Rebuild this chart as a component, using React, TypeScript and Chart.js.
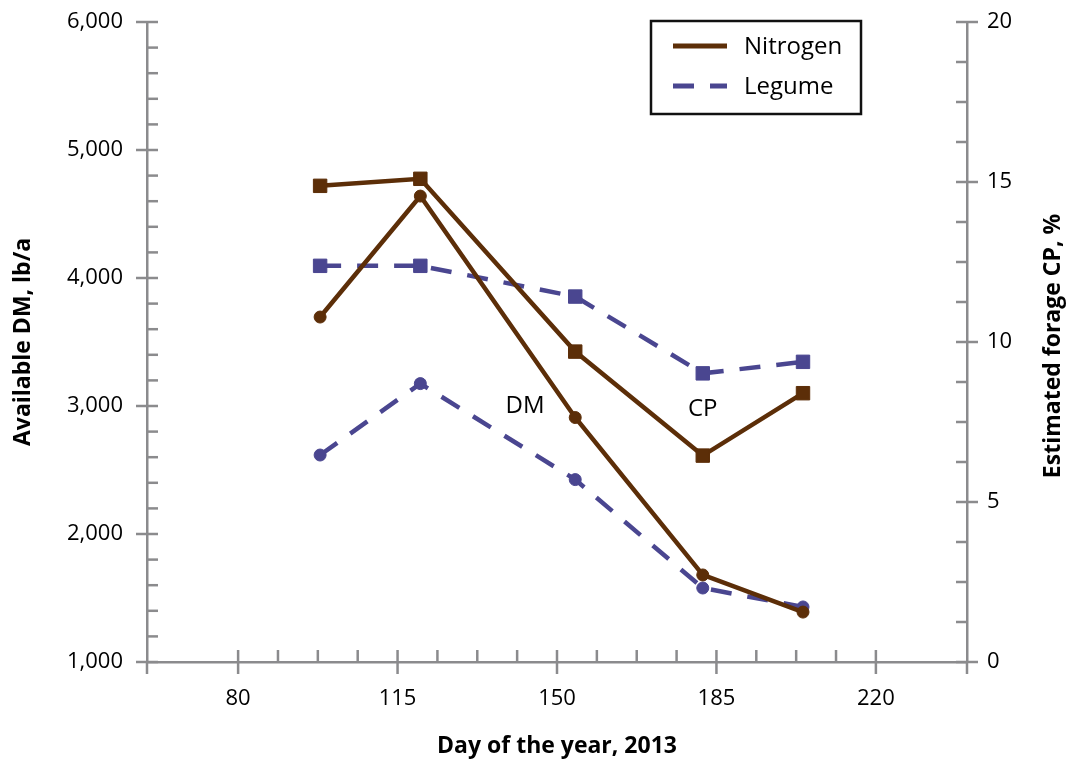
import React, { useEffect, useRef } from "react";
import { Chart, registerables } from "chart.js";

Chart.register(...registerables);

// ---- data ----
const days = [98, 120, 154, 182, 204];
const nitrogenDM = [3695, 4640, 2910, 1680, 1390];
const legumeDM = [2617, 3175, 2425, 1578, 1430];
const nitrogenCP = [14.88, 15.1, 9.7, 6.45, 8.4];
const legumeCP = [12.38, 12.38, 11.42, 9.02, 9.38];

const xTicks = [80, 115, 150, 185, 220];
const dmTicks = [1000, 2000, 3000, 4000, 5000, 6000];
const cpTicks = [0, 5, 10, 15, 20];

const seriesNames = ["Nitrogen", "Legume"];
const annotationLabels = ["DM", "CP"];
const annotationX = [143, 182];
const annotationY = [3000, 7.9];
const annotationAxis = ["y", "y2"];

const xTitle = "Day of the year, 2013";
const yTitle = "Available DM, lb/a";
const y2Title = "Estimated forage CP, %";

// ---- styles ----
const BROWN = "#5c2e08";
const PURPLE = "#4a4690";
const AXIS = "#8b8b8d";
const FONT = "'Open Sans', 'Noto Sans', sans-serif";
const DASH = [21, 16];

const tickPlugin = {
  id: "tickMarks",
  beforeDatasetsDraw(chart: any) {
    const { ctx, chartArea, scales } = chart;
    const x = scales.x, y = scales.y, y2 = scales.y2;
    ctx.save();
    ctx.strokeStyle = AXIS;
    ctx.lineWidth = 2.5;
    ctx.lineCap = "butt";
    const line = (x1: number, y1: number, x2: number, y2p: number) => {
      ctx.beginPath();
      ctx.moveTo(x1, y1);
      ctx.lineTo(x2, y2p);
      ctx.stroke();
    };
    const bottom = chartArea.bottom;
    // x axis
    const xStep = (xTicks[1] - xTicks[0]) / 4;
    for (let v = xTicks[0]; v <= xTicks[xTicks.length - 1] + 1e-6; v += xStep) {
      const px = x.getPixelForValue(v);
      const isMajor = xTicks.some((t) => Math.abs(t - v) < 1e-6);
      line(px, bottom - 12, px, isMajor ? bottom + 12 : bottom);
    }
    line(chartArea.left, bottom, chartArea.left, bottom + 12);
    line(chartArea.right, bottom, chartArea.right, bottom + 12);
    // left y axis
    const yStep = (dmTicks[1] - dmTicks[0]) / 5;
    for (let v = dmTicks[0]; v <= dmTicks[dmTicks.length - 1] + 1e-6; v += yStep) {
      const py = y.getPixelForValue(v);
      const isMajor = dmTicks.some((t) => Math.abs(t - v) < 1e-6);
      line(chartArea.left + 11, py, isMajor ? chartArea.left - 11 : chartArea.left, py);
    }
    // right y axis
    const y2Step = (cpTicks[1] - cpTicks[0]) / 4;
    for (let v = cpTicks[0]; v <= cpTicks[cpTicks.length - 1] + 1e-6; v += y2Step) {
      const py = y2.getPixelForValue(v);
      const isMajor = cpTicks.some((t) => Math.abs(t - v) < 1e-6);
      line(chartArea.right - 11, py, isMajor ? chartArea.right + 11 : chartArea.right, py);
    }
    ctx.restore();
  },
  afterDraw(chart: any) {
    const { ctx, chartArea, scales } = chart;
    ctx.save();
    // right axis title (reads bottom-to-top)
    ctx.fillStyle = "#000";
    ctx.font = `bold 23px ${FONT}`;
    ctx.textAlign = "center";
    ctx.textBaseline = "middle";
    ctx.translate(chartArea.right + 86, (chartArea.top + chartArea.bottom) / 2 + 4);
    ctx.rotate(-Math.PI / 2);
    ctx.fillText(y2Title, 0, 0);
    ctx.restore();

    // annotations
    ctx.save();
    ctx.fillStyle = "#000";
    ctx.font = `24px ${FONT}`;
    ctx.textAlign = "center";
    ctx.textBaseline = "middle";
    annotationLabels.forEach((t, i) => {
      const px = scales.x.getPixelForValue(annotationX[i]);
      const py = scales[annotationAxis[i]].getPixelForValue(annotationY[i]);
      ctx.fillText(t, px, py);
    });
    ctx.restore();

    // legend
    ctx.save();
    const bx = chartArea.right - 316;
    const by = chartArea.top - 1;
    const bw = 210;
    const bh = 93;
    ctx.strokeStyle = "#111";
    ctx.lineWidth = 2.5;
    ctx.strokeRect(bx, by, bw, bh);
    const colors = [BROWN, PURPLE];
    const dashes = [[], DASH];
    seriesNames.forEach((name, i) => {
      const ly = by + 25 + i * 40;
      ctx.strokeStyle = colors[i];
      ctx.lineWidth = 5;
      ctx.setLineDash(dashes[i]);
      ctx.beginPath();
      ctx.moveTo(bx + 22, ly);
      ctx.lineTo(bx + 76, ly);
      ctx.stroke();
      ctx.setLineDash([]);
      ctx.fillStyle = "#000";
      ctx.font = `24px ${FONT}`;
      ctx.textAlign = "left";
      ctx.textBaseline = "middle";
      ctx.fillText(name, bx + 93, ly + 1);
    });
    ctx.restore();
  },
};

function pts(ys: number[]) {
  return days.map((d, i) => ({ x: d, y: ys[i] }));
}

function zeroPad(s: any) {
  s.paddingTop = 0;
  s.paddingBottom = 0;
  s.paddingLeft = 0;
  s.paddingRight = 0;
}

export default function App() {
  const ref = useRef<HTMLCanvasElement | null>(null);
  useEffect(() => {
    if (!ref.current) return;
    const common = { borderWidth: 4.5, pointBorderWidth: 1, tension: 0, fill: false };
    const chart = new Chart(ref.current, {
      type: "line",
      data: {
        datasets: [
          {
            label: "Nitrogen DM",
            data: pts(nitrogenDM),
            yAxisID: "y",
            borderColor: BROWN,
            backgroundColor: BROWN,
            pointStyle: "circle",
            pointRadius: 6,
            ...common,
          },
          {
            label: "Legume DM",
            data: pts(legumeDM),
            yAxisID: "y",
            borderColor: PURPLE,
            backgroundColor: PURPLE,
            borderDash: DASH,
            pointStyle: "circle",
            pointRadius: 6,
            ...common,
          },
          {
            label: "Nitrogen CP",
            data: pts(nitrogenCP),
            yAxisID: "y2",
            borderColor: BROWN,
            backgroundColor: BROWN,
            pointStyle: "rect",
            pointRadius: 9.5,
            ...common,
          },
          {
            label: "Legume CP",
            data: pts(legumeCP),
            yAxisID: "y2",
            borderColor: PURPLE,
            backgroundColor: PURPLE,
            borderDash: DASH,
            pointStyle: "rect",
            pointRadius: 9.5,
            ...common,
          },
        ] as any,
      },
      options: {
        responsive: false,
        animation: false,
        events: [],
        layout: { padding: { top: 22, left: 0, right: 0, bottom: 0 } },
        plugins: { legend: { display: false }, tooltip: { enabled: false } },
        scales: {
          x: {
            type: "linear",
            min: 60,
            max: 240,
            afterBuildTicks: (s: any) => {
              s.ticks = xTicks.map((v) => ({ value: v }));
            },
            afterFit: (s: any) => {
              s.height = 103;
              zeroPad(s);
            },
            grid: { display: false, drawTicks: false },
            border: { display: true, color: AXIS, width: 2.5 },
            ticks: {
              color: "#000",
              font: { family: FONT, size: 22 },
              padding: 24,
              maxRotation: 0,
              callback: (v: any) => String(v),
            },
            title: {
              display: true,
              text: xTitle,
              color: "#000",
              font: { family: FONT, size: 23, weight: "bold" },
              padding: { top: 0, bottom: 5 },
            },
          },
          y: {
            type: "linear",
            position: "left",
            min: 1000,
            max: 6000,
            afterBuildTicks: (s: any) => {
              s.ticks = dmTicks.map((v) => ({ value: v }));
            },
            afterFit: (s: any) => {
              s.width = 147;
              zeroPad(s);
            },
            grid: { display: false, drawTicks: false },
            border: { display: true, color: AXIS, width: 2.5 },
            ticks: {
              color: "#000",
              font: { family: FONT, size: 22 },
              padding: 24,
              callback: (v: any) => Number(v).toLocaleString("en-US"),
            },
            title: {
              display: true,
              text: yTitle,
              color: "#000",
              font: { family: FONT, size: 23, weight: "bold" },
              padding: { top: 10, bottom: 0 },
            },
          },
          y2: {
            type: "linear",
            position: "right",
            min: 0,
            max: 20,
            afterBuildTicks: (s: any) => {
              s.ticks = cpTicks.map((v) => ({ value: v }));
            },
            afterFit: (s: any) => {
              s.width = 114;
              zeroPad(s);
            },
            grid: { display: false, drawTicks: false },
            border: { display: true, color: AXIS, width: 2.5 },
            ticks: {
              color: "#000",
              font: { family: FONT, size: 22 },
              padding: 20,
              callback: (v: any) => String(v),
            },
          },
        },
      } as any,
      plugins: [tickPlugin],
    });
    return () => chart.destroy();
  }, []);
  return (
    <div style={{ position: "absolute", left: 0, top: 0, width: 1081, height: 765, background: "#fff" }}>
      <canvas ref={ref} width={1081} height={765} style={{ display: "block" }} />
    </div>
  );
}
